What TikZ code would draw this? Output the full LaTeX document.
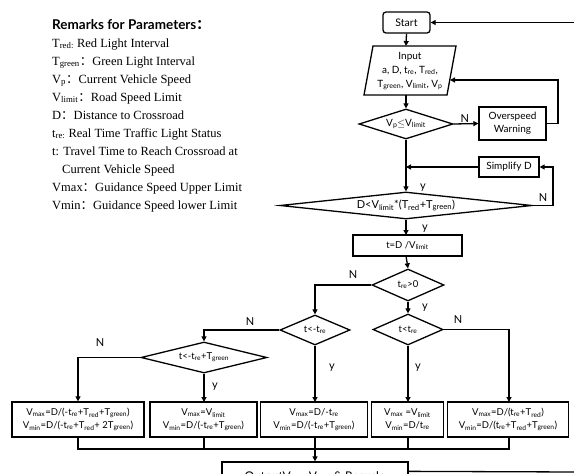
\documentclass[tikz,border=0pt]{standalone}
\usepackage{fontspec}
\setmainfont{Liberation Serif}
\newfontfamily\flow{Lato}
\newfontfamily\cjk{Noto Sans CJK SC}
\usetikzlibrary{shapes.geometric,arrows.meta,calc}
\newcommand{\sbs}[1]{\textsubscript{#1}}
\newcommand{\fc}{{\cjk ：}}
\begin{document}
\begin{tikzpicture}[x=1pt,y=-1pt,
  ln/.style={line width=1.3pt},
  arr/.style={ln,-{Triangle[length=5pt,width=5pt]}},
  boxn/.style={draw,ln,rectangle,inner sep=0pt,align=center,font=\flow\fontsize{9.5}{13}\selectfont},
  dia/.style={draw,ln,diamond,inner sep=0pt},
  txt/.style={inner sep=0pt,align=center,font=\flow\fontsize{9.5}{13}\selectfont},
  lab/.style={inner sep=0pt,font=\flow\fontsize{11}{12}\selectfont},
  rem/.style={inner sep=0pt,anchor=base west,font=\fontsize{12.5}{14}\selectfont}]
\clip (0,0) rectangle (574,474);
\useasboundingbox (0,0) rectangle (574,474);

% remarks
\node[rem,font=\flow\bfseries\fontsize{13.5}{15}\selectfont] (r0) at (52,29) {Remarks for Parameters\fc};
\node[rem] (r1) at (52,47) {T\sbs{red:} Red Light Interval};
\node[rem] (r2) at (52,65) {T\sbs{green}\fc Green Light Interval};
\node[rem] (r3) at (52,83) {V\sbs{p}\fc Current Vehicle Speed};
\node[rem] (r4) at (52,101) {V\sbs{limit}\fc Road Speed Limit};
\node[rem] (r5) at (52,119) {D\fc Distance to Crossroad};
\node[rem] (r6) at (52,137) {t\sbs{re:} Real Time Traffic Light Status};
\node[rem] (r7) at (52,155) {t: Travel Time to Reach Crossroad at};
\node[rem] (r8) at (62,173) {Current Vehicle Speed};
\node[rem] (r9) at (52,191) {Vmax\fc Guidance Speed Upper Limit};
\node[rem] (r10) at (52,209) {Vmin\fc Guidance Speed lower Limit};

% flow nodes
\node[boxn,rounded corners=3pt,minimum width=47pt,minimum height=21pt,font=\flow\fontsize{10.5}{12}\selectfont] (start) at (406.5,22.5) {Start};
\draw[ln] (373,46) -- (456,46) -- (447,95) -- (364,95) -- cycle;
\coordinate (inN) at (406,46);
\coordinate (inS) at (406,95);
\coordinate (inE) at (450,80);
\node[txt,font=\flow\fontsize{10}{14}\selectfont] (inp) at (410,71) {Input\\a, D, t\sbs{re}, T\sbs{red},\\T\sbs{green}, V\sbs{limit}, V\sbs{p}};

\node[dia,minimum width=94pt,minimum height=30pt] (d1) at (406,124) {};
\node[txt,font=\flow\fontsize{10}{12}\selectfont] at (d1) {V\sbs{p}$\leq$V\sbs{limit}};
\node[boxn,minimum width=67pt,minimum height=33pt,font=\flow\fontsize{10}{13}\selectfont] (warn) at (512.5,123.5) {Overspeed\\Warning};
\node[boxn,minimum width=60pt,minimum height=20pt,font=\flow\fontsize{10}{12}\selectfont] (simp) at (509,167) {Simplify D};
\node[dia,minimum width=252pt,minimum height=27pt] (d2) at (406,205.5) {};
\node[txt,font=\flow\fontsize{11}{12}\selectfont] at (d2) {D<V\sbs{limit}*(T\sbs{red}+T\sbs{green})};
\node[boxn,minimum width=109pt,minimum height=21pt] (calc) at (407.5,245.5) {t=D /V\sbs{limit}};
\node[dia,minimum width=72pt,minimum height=32pt] (d3) at (408,285) {};
\node[txt] at (d3) {t\sbs{re}>0};
\node[dia,minimum width=70pt,minimum height=31pt] (d4) at (408,329.5) {};
\node[txt] at (d4) {t<t\sbs{re}};
\node[dia,minimum width=70pt,minimum height=30pt] (d5) at (315,330) {};
\node[txt] at (d5) {t<-t\sbs{re}};
\node[dia,minimum width=126pt,minimum height=31pt] (d6) at (204,357.5) {};
\node[txt] at (d6) {t<-t\sbs{re}+T\sbs{green}};

\node[boxn,minimum width=132pt,minimum height=35pt] (b1) at (78,419.5) {V\sbs{max}=D/(-t\sbs{re}+T\sbs{red}+T\sbs{green})\\V\sbs{min}=D/(-t\sbs{re}+T\sbs{red}+ 2T\sbs{green})};
\node[boxn,minimum width=107pt,minimum height=35pt] (b2) at (203.5,419.5) {V\sbs{max}=V\sbs{limit}\\V\sbs{min}=D/(-t\sbs{re}+T\sbs{green})};
\node[boxn,minimum width=107pt,minimum height=35pt] (b3) at (314,419.5) {V\sbs{max}=D/-t\sbs{re}\\V\sbs{min}=D/(-t\sbs{re}+T\sbs{green})};
\node[boxn,minimum width=72pt,minimum height=35pt] (b4) at (407.5,419.5) {V\sbs{max} =V\sbs{limit}\\V\sbs{min}=D/t\sbs{re}};
\node[boxn,minimum width=121pt,minimum height=35pt] (b5) at (508,419.5) {V\sbs{max}=D/(t\sbs{re}+T\sbs{red})\\V\sbs{min}=D/(t\sbs{re}+T\sbs{red}+T\sbs{green})};
\node[boxn,minimum width=186pt,minimum height=30pt,font=\flow\fontsize{12}{14}\selectfont] (out) at (315,477) {OutputV\sbs{max} V\sbs{min} \& Recycle};

% connectors
\draw[arr] (start.south) -- (inN);
\draw[arr] (inS) -- (d1.north);
\draw[arr] (d1.east) -- node[lab,above,pos=0.45,yshift=1pt] (nl1) {N} (warn.west);
\draw[arr] (warn.east) -- (558,123.5) -- (558,80) -- (inE);
\draw[arr] (d1.south) -- (d2.north);
\node[lab] (yl1) at (423,188) {y};
\coordinate (j1) at (d1.south |- simp.west);
\draw[arr] (simp.west) -- (j1);
\draw[arr] (d2.east) -- (553,205.5) -- (553,167) -- (simp.east);
\node[lab] (nl2) at (543,198) {N};
\draw[arr] (d2.south) -- (406,235);
\node[lab] (yl2) at (425,229) {y};
\draw[arr] (406,256) -- (d3.north);
\draw[arr] (d3.west) -- (315,285) -- (d5.north);
\node[lab] (nl3) at (353,275) {N};
\draw[arr] (d3.south) -- (d4.north);
\node[lab] (yl3) at (425,308) {y};
\draw[arr] (d4.east) -- (509,329.5) -- (509,402);
\node[lab] (nl4) at (458,320) {N};
\draw[arr] (d4.south) -- (408,402);
\node[lab] (yl4) at (418,368) {y};
\draw[arr] (d5.west) -- (204,330) -- (d6.north);
\node[lab] (nl5) at (250,322) {N};
\draw[arr] (d5.south) -- (315,402);
\node[lab] (yl5) at (332,368) {y};
\draw[arr] (d6.west) -- (78,357.5) -- (b1.north);
\node[lab] (nl6) at (100,343) {N};
\draw[arr] (d6.south) -- (204,402);
\node[lab] (yl6) at (215,387) {y};

\draw[ln] (b1.south) -- (78,449) -- (509,449) -- (509,437);
\draw[ln] (204,437) -- (204,449);
\draw[ln] (315,437) -- (315,449);
\draw[ln] (408,437) -- (408,449);
\draw[arr] (315,449) -- (out.north);
\draw[ln] ($(out.north east)+(0,10)$) -- (576,472);
\draw[arr] (576,22.5) -- (start.east);
\end{tikzpicture}
\end{document}
